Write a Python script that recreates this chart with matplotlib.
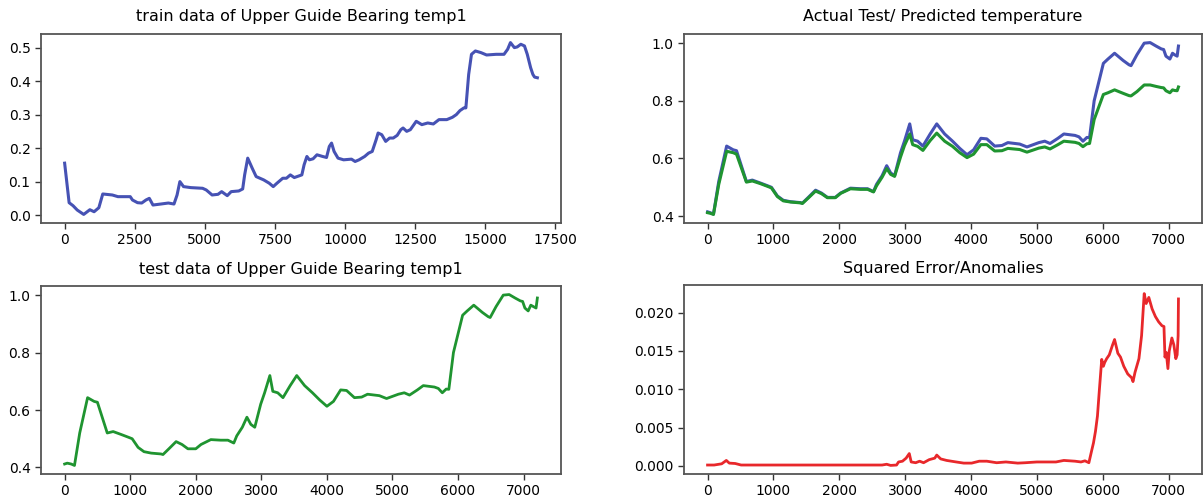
import matplotlib
matplotlib.use("Agg")
import matplotlib.pyplot as plt

# Training series: sample index and normalised temperature
train_x = [0, 160, 300, 450, 680, 900, 1050, 1220, 1360, 1700,
           1900, 2340, 2420, 2600, 2750, 2900, 3020, 3150, 3430, 3700,
           3900, 4010, 4110, 4240, 4500, 4920, 5050, 5260, 5470, 5600,
           5800, 5940, 6210, 6350, 6420, 6530, 6690, 6830, 7100, 7300,
           7440, 7570, 7780, 7910, 8050, 8190, 8460, 8540, 8640, 8730,
           8860, 9000, 9200, 9340, 9440, 9520, 9610, 9750, 9950, 10230,
           10360, 10500, 10700, 10840, 10970, 11110, 11180, 11310, 11450, 11590,
           11720, 11860, 11990, 12070, 12200, 12330, 12540, 12740, 12950, 13150,
           13350, 13630, 13830, 13970, 14100, 14240, 14310, 14410, 14510, 14650,
           14850, 15050, 15390, 15670, 15800, 15900, 16040, 16140, 16270, 16400,
           16500, 16620, 16700, 16760, 16860]
train_y = [0.155, 0.037, 0.028, 0.015, 0.002, 0.016, 0.010, 0.022, 0.063, 0.060,
           0.055, 0.055, 0.045, 0.037, 0.036, 0.045, 0.050, 0.030, 0.033, 0.036,
           0.033, 0.060, 0.100, 0.085, 0.082, 0.080, 0.075, 0.060, 0.062, 0.070,
           0.058, 0.070, 0.072, 0.078, 0.120, 0.170, 0.140, 0.115, 0.105, 0.095,
           0.085, 0.095, 0.110, 0.110, 0.120, 0.112, 0.120, 0.150, 0.175, 0.165,
           0.168, 0.180, 0.175, 0.172, 0.205, 0.215, 0.190, 0.170, 0.165, 0.167,
           0.160, 0.165, 0.175, 0.185, 0.190, 0.225, 0.245, 0.240, 0.220, 0.230,
           0.230, 0.238, 0.255, 0.260, 0.250, 0.255, 0.280, 0.270, 0.275, 0.272,
           0.285, 0.285, 0.292, 0.300, 0.312, 0.320, 0.320, 0.420, 0.480, 0.490,
           0.485, 0.478, 0.480, 0.480, 0.495, 0.515, 0.500, 0.502, 0.510, 0.505,
           0.480, 0.440, 0.420, 0.412, 0.410]

# Test series
test_x = [0, 40, 100, 150, 230, 350, 450, 500, 650, 740,
          860, 975, 1030, 1120, 1210, 1320, 1470, 1500, 1590, 1700,
          1790, 1880, 2000, 2080, 2230, 2380, 2490, 2580, 2625, 2710,
          2780, 2840, 2900, 2990, 3050, 3130, 3175, 3250, 3330, 3440,
          3540, 3660, 3780, 3890, 4000, 4100, 4210, 4300, 4420, 4530,
          4620, 4800, 4910, 5090, 5180, 5260, 5380, 5470, 5640, 5700,
          5760, 5820, 5860, 5930, 6070, 6140, 6240, 6370, 6460, 6490,
          6580, 6690, 6780, 6870, 6950, 6985, 7020, 7070, 7110, 7150,
          7190, 7210]
test_y = [0.412, 0.415, 0.412, 0.407, 0.520, 0.643, 0.630, 0.627, 0.520, 0.525,
          0.515, 0.505, 0.500, 0.470, 0.455, 0.450, 0.447, 0.445, 0.465, 0.490,
          0.480, 0.465, 0.465, 0.480, 0.497, 0.495, 0.495, 0.485, 0.510, 0.540,
          0.575, 0.550, 0.540, 0.620, 0.660, 0.720, 0.665, 0.660, 0.643, 0.685,
          0.720, 0.685, 0.660, 0.635, 0.613, 0.630, 0.670, 0.668, 0.643, 0.645,
          0.655, 0.650, 0.640, 0.655, 0.660, 0.652, 0.670, 0.685, 0.680, 0.675,
          0.660, 0.673, 0.672, 0.800, 0.930, 0.945, 0.965, 0.940, 0.925, 0.922,
          0.960, 1.000, 1.002, 0.990, 0.980, 0.978, 0.955, 0.945, 0.965, 0.960,
          0.955, 0.990]

# Actual test values after the look-back window, with model predictions
actual_x = [0, 40, 90, 170, 290, 390, 440, 590, 680, 800,
            915, 970, 1060, 1150, 1260, 1410, 1440, 1530, 1640, 1730,
            1820, 1940, 2020, 2170, 2320, 2430, 2520, 2565, 2650, 2720,
            2780, 2840, 2930, 2990, 3070, 3115, 3190, 3270, 3380, 3480,
            3600, 3720, 3830, 3940, 4040, 4150, 4240, 4360, 4470, 4560,
            4740, 4850, 5030, 5120, 5200, 5320, 5410, 5580, 5640, 5700,
            5760, 5800, 5870, 6010, 6080, 6180, 6310, 6400, 6430, 6520,
            6630, 6720, 6810, 6890, 6925, 6960, 7020, 7060, 7090, 7130,
            7150]
actual_y = [0.415, 0.412, 0.407, 0.520, 0.643, 0.630, 0.627, 0.520, 0.525, 0.515,
            0.505, 0.500, 0.470, 0.455, 0.450, 0.447, 0.445, 0.465, 0.490, 0.480,
            0.465, 0.465, 0.480, 0.497, 0.495, 0.495, 0.485, 0.510, 0.540, 0.575,
            0.550, 0.540, 0.620, 0.660, 0.720, 0.665, 0.660, 0.643, 0.685, 0.720,
            0.685, 0.660, 0.635, 0.613, 0.630, 0.670, 0.668, 0.643, 0.645, 0.655,
            0.650, 0.640, 0.655, 0.660, 0.652, 0.670, 0.685, 0.680, 0.675, 0.660,
            0.673, 0.672, 0.800, 0.930, 0.945, 0.965, 0.940, 0.925, 0.922, 0.960,
            1.000, 1.002, 0.990, 0.980, 0.978, 0.955, 0.945, 0.965, 0.960, 0.955,
            0.990]
pred_y = [0.412, 0.410, 0.406, 0.510, 0.625, 0.620, 0.615, 0.518, 0.522, 0.513,
          0.503, 0.498, 0.468, 0.453, 0.449, 0.446, 0.444, 0.463, 0.487, 0.478,
          0.464, 0.464, 0.479, 0.495, 0.493, 0.493, 0.484, 0.505, 0.535, 0.565,
          0.545, 0.538, 0.605, 0.645, 0.685, 0.648, 0.642, 0.628, 0.662, 0.688,
          0.660, 0.642, 0.620, 0.603, 0.615, 0.648, 0.648, 0.626, 0.627, 0.635,
          0.631, 0.622, 0.636, 0.640, 0.633, 0.648, 0.660, 0.656, 0.652, 0.641,
          0.651, 0.652, 0.735, 0.822, 0.828, 0.838, 0.826, 0.818, 0.817, 0.832,
          0.855, 0.855, 0.850, 0.846, 0.845, 0.835, 0.828, 0.838, 0.836, 0.835,
          0.848]

# Squared reconstruction error
err_x = [0, 100, 215, 285, 330, 420, 510, 1000, 2000, 2650,
         2720, 2780, 2870, 2900, 2960, 3015, 3063, 3092, 3160, 3220,
         3280, 3365, 3450, 3480, 3540, 3630, 3775, 3890, 4010, 4125,
         4240, 4390, 4530, 4710, 4825, 5000, 5175, 5290, 5410, 5580,
         5670, 5730, 5790, 5830, 5860, 5890, 5920, 5950, 5985, 6010,
         6030, 6060, 6100, 6150, 6180, 6230, 6270, 6320, 6380, 6440,
         6460, 6490, 6550, 6590, 6630, 6660, 6700, 6750, 6800, 6850,
         6900, 6930, 6945, 6965, 6990, 7010, 7050, 7080, 7110, 7130,
         7145, 7150]
err_y = [0.0001, 0.0001, 0.00026, 0.0007, 0.00035, 0.0003, 0.0001, 0.0001, 0.0001, 0.0001,
         0.0002, 0.00005, 0.0001, 0.0005, 0.0006, 0.0010, 0.0016, 0.0005, 0.0004, 0.0006,
         0.0004, 0.0008, 0.0010, 0.0014, 0.0009, 0.0007, 0.0005, 0.00035, 0.00035, 0.0006,
         0.0006, 0.0004, 0.0005, 0.00035, 0.0004, 0.0005, 0.0005, 0.0005, 0.0007, 0.0006,
         0.0005, 0.00065, 0.0004, 0.0019, 0.0030, 0.0045, 0.0065, 0.0100, 0.0139, 0.0130,
         0.0135, 0.0140, 0.0145, 0.0158, 0.0165, 0.0147, 0.0142, 0.0130, 0.0120, 0.0115,
         0.0110, 0.0122, 0.0140, 0.0170, 0.0225, 0.0212, 0.0220, 0.0205, 0.0195, 0.0188,
         0.0183, 0.0182, 0.0142, 0.0148, 0.0127, 0.0150, 0.0167, 0.0158, 0.0140, 0.0145,
         0.0170, 0.0218]

titles = ["train data of Upper Guide Bearing temp1",
          "Actual Test/ Predicted temperature",
          "test data of Upper Guide Bearing temp1",
          "Squared Error/Anomalies"]

BLUE = "#4652b4"
GREEN = "#1f9430"
RED = "#e8282b"

plt.rcParams["font.family"] = ["DejaVu Sans"]

fig = plt.figure(figsize=(12.03, 5.01), dpi=100)
W, H = 1203, 501


def make_axes(x0, y0, x1, y1):
    return fig.add_axes([x0 / W, 1 - y1 / H, (x1 - x0) / W, (y1 - y0) / H])


ax_train = make_axes(41, 34, 561, 223)
ax_pred = make_axes(684, 34, 1202, 223)
ax_test = make_axes(41, 286, 561, 474)
ax_err = make_axes(684, 285, 1202, 474)

ax_train.plot(train_x, train_y, color=BLUE, lw=2.2)
ax_pred.plot(actual_x, actual_y, color=BLUE, lw=2.2)
ax_pred.plot(actual_x, pred_y, color=GREEN, lw=2.2)
ax_test.plot(test_x, test_y, color=GREEN, lw=2.0)
ax_err.plot(err_x, err_y, color=RED, lw=2.0)

ax_train.set_xticks([0, 2500, 5000, 7500, 10000, 12500, 15000, 17500])
ax_train.set_yticks([0.0, 0.1, 0.2, 0.3, 0.4, 0.5])
for ax in (ax_pred, ax_test, ax_err):
    ax.set_xticks(range(0, 8000, 1000))
for ax in (ax_pred, ax_test):
    ax.set_yticks([0.4, 0.6, 0.8, 1.0])
ax_err.set_yticks([0.0, 0.005, 0.010, 0.015, 0.020])
ax_err.yaxis.set_major_formatter(matplotlib.ticker.FormatStrFormatter("%.3f"))
ax_train.yaxis.set_major_formatter(matplotlib.ticker.FormatStrFormatter("%.1f"))
for ax in (ax_pred, ax_test):
    ax.yaxis.set_major_formatter(matplotlib.ticker.FormatStrFormatter("%.1f"))

for ax, t in zip((ax_train, ax_pred, ax_test, ax_err), titles):
    ax.set_title(t, fontsize=11.5, pad=9)
    ax.tick_params(labelsize=10, length=4, width=1.0, color="#333333")
    for s in ax.spines.values():
        s.set_color("#555555")
        s.set_linewidth(1.3)

fig.savefig("out.png", dpi=100)
